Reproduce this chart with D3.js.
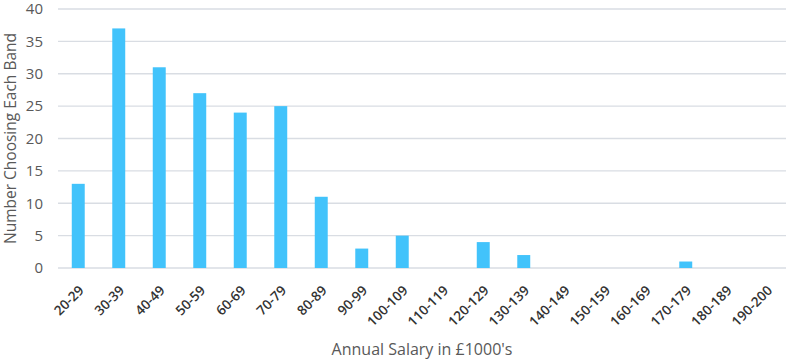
<!DOCTYPE html>
<html>
<head>
<meta charset="utf-8">
<script src="https://cdn.jsdelivr.net/npm/d3@7"></script>
<style>
  body { margin: 0; background: #fff; }
  .chart text { font-family: "Open Sans", sans-serif; }
</style>
</head>
<body>
<div class="chart"></div>
<script>
var bands = ["20-29","30-39","40-49","50-59","60-69","70-79","80-89","90-99","100-109","110-119",
  "120-129","130-139","140-149","150-159","160-169","170-179","180-189","190-200"];
var counts = [13, 37, 31, 27, 24, 25, 11, 3, 5, 0, 4, 2, 0, 0, 0, 1, 0, 0];
var yTicks = [0, 5, 10, 15, 20, 25, 30, 35, 40];

var W = 786, H = 362;
var margin = { top: 9, left: 58 };
var width = 729;
var height = 259;

var svg = d3.select(".chart").append("svg")
  .attr("width", W)
  .attr("height", H);

var chart = svg.append("g").attr("transform", `translate(${margin.left},${margin.top})`);

const xScale = d3.scaleBand()
  .domain(bands)
  .range([0, width])
  .paddingInner(0.68)
  .paddingOuter(0.34);
const yScale = d3.scaleLinear()
  .domain([0, 40])
  .range([height, 0]);

// gridlines
chart.append("g")
  .selectAll("line")
  .data(yTicks)
  .join("line")
  .attr("x1", 0)
  .attr("x2", width)
  .attr("y1", d => yScale(d))
  .attr("y2", d => yScale(d))
  .attr("stroke", "#d9dde3")
  .attr("stroke-width", 1.3);

// y axis labels
var yAxis = chart.append("g")
  .call(d3.axisLeft(yScale).tickValues(yTicks).tickSize(0).tickPadding(15));
yAxis.select(".domain").remove();
yAxis.selectAll("text")
  .attr("fill", "#595959")
  .style("font-size", "15px");

// bars
chart.append("g")
  .selectAll("rect")
  .data(counts)
  .join("rect")
  .attr("x", (d, i) => xScale(bands[i]))
  .attr("width", xScale.bandwidth())
  .attr("y", d => yScale(d))
  .attr("height", d => height - yScale(d))
  .attr("fill", "#42c3fb");

// x axis
var xAxis = chart.append("g")
  .attr("transform", `translate(0,${height})`)
  .call(d3.axisBottom(xScale).tickSize(0));
xAxis.select(".domain").remove();
xAxis.selectAll("text")
  .attr("fill", "#333")
  .style("font-size", "13.5px")
  .style("font-weight", "600")
  .attr("text-anchor", "end")
  .attr("x", 0)
  .attr("y", 0)
  .attr("dy", "0.35em")
  .attr("transform", "translate(3,20) rotate(-45)");

// axis titles
svg.append("text")
  .attr("transform", `translate(11,${margin.top + height / 2}) rotate(-90)`)
  .attr("text-anchor", "middle")
  .attr("dy", "0.35em")
  .attr("fill", "#595959")
  .style("font-size", "15.5px")
  .text("Number Choosing Each Band");

svg.append("text")
  .attr("x", 422)
  .attr("y", 349)
  .attr("text-anchor", "middle")
  .attr("dy", "0.35em")
  .attr("fill", "#595959")
  .style("font-size", "16px")
  .text("Annual Salary in £1000's");
</script>
</body>
</html>
